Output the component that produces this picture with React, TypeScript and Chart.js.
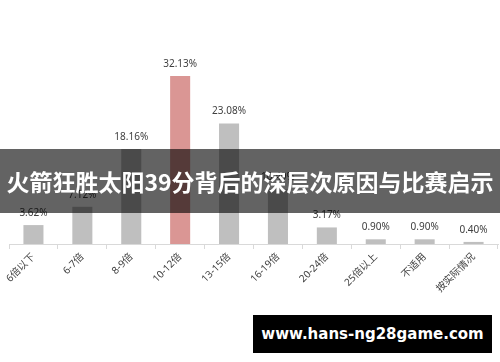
import React, { useEffect, useRef } from "react";
import { Chart, registerables } from "chart.js";

Chart.register(...registerables);

const categories = ["6倍以下", "6-7倍", "8-9倍", "10-12倍", "13-15倍", "16-19倍", "20-24倍", "25倍以上", "不适用", "按实际情况"];
const shares = [3.62, 7.12, 18.16, 32.13, 23.08, 10.49, 3.17, 0.9, 0.9, 0.4];
const highlightIndex = 3;
const title = "火箭狂胜太阳39分背后的深层次原因与比赛启示";
const site = "www.hans-ng28game.com";

const GREY = "#bfbfbf";
const RED = "#da9694";
const FONT = "'Noto Sans', 'Noto Sans CJK SC', sans-serif";

const valueLabels = {
  id: "valueLabels",
  afterDatasetsDraw(chart: any) {
    const ctx = chart.ctx;
    const meta = chart.getDatasetMeta(0);
    ctx.save();
    ctx.fillStyle = "#404040";
    ctx.font = `10px ${FONT}`;
    ctx.textAlign = "center";
    ctx.textBaseline = "bottom";
    meta.data.forEach((el: any, i: number) => {
      ctx.fillText(shares[i].toFixed(2) + "%", el.x, el.y - 7);
    });
    ctx.restore();
  },
};

export default function App() {
  const ref = useRef<HTMLCanvasElement | null>(null);
  useEffect(() => {
    document.body.style.margin = "0";
    if (!ref.current) return;
    const chart = new Chart(ref.current, {
      type: "bar",
      data: {
        labels: categories,
        datasets: [
          {
            data: shares,
            backgroundColor: shares.map((_, i) => (i === highlightIndex ? RED : GREY)),
            barPercentage: 0.82,
            categoryPercentage: 0.5,
          },
        ],
      },
      options: {
        animation: false,
        responsive: false,
        maintainAspectRatio: false,
        layout: { padding: { left: 9, right: 2, top: 35, bottom: 0 } },
        plugins: { legend: { display: false }, tooltip: { enabled: false } },
        scales: {
          y: { display: false, min: 0, max: 40 },
          x: {
            border: { display: true, color: "#d9d9d9" },
            grid: { display: true, drawOnChartArea: false, drawTicks: true, tickLength: 5, color: "#d9d9d9", offset: true },
            ticks: {
              color: "#404040",
              font: { size: 10, family: FONT },
              maxRotation: 45,
              minRotation: 45,
              padding: 2,
              autoSkip: false,
            },
            afterFit(scale: any) {
              scale.height = 118;
            },
          },
        },
      },
      plugins: [valueLabels],
    });
    return () => chart.destroy();
  }, []);

  return (
    <div style={{ position: "relative", width: 500, height: 362, background: "#fff", overflow: "hidden" }}>
      <canvas ref={ref} width={500} height={362} style={{ display: "block" }} />
      <div
        style={{
          position: "absolute",
          left: 0,
          top: 149,
          width: 500,
          height: 64,
          background: "rgba(0,0,0,0.61)",
          color: "#fff",
          fontFamily: "'Noto Sans CJK SC', sans-serif",
          fontWeight: 700,
          fontSize: 23,
          lineHeight: "64px",
          textAlign: "center",
          whiteSpace: "nowrap",
        }}
      >
        {title}
      </div>
      <div
        style={{
          position: "absolute",
          left: 253,
          top: 315,
          width: 239,
          height: 38,
          background: "#000",
          color: "#fff",
          fontFamily: "'DejaVu Sans', sans-serif",
          fontWeight: 700,
          fontSize: 15,
          lineHeight: "38px",
          textAlign: "center",
          whiteSpace: "nowrap",
        }}
      >
        {site}
      </div>
    </div>
  );
}
